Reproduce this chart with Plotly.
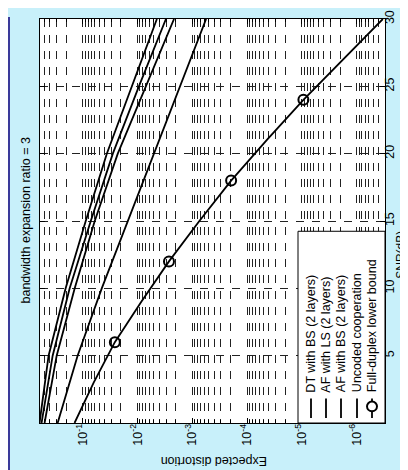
import plotly.graph_objects as go

# ---------------- data ----------------
snr_db = [0, 5, 10, 15, 20, 25, 30]
dt_bs_2layers = [6.14e-1, 4.20e-1, 2.05e-1, 8.81e-2, 3.63e-2, 1.27e-2, 4.42e-3]
af_ls_2layers = [5.64e-1, 3.54e-1, 1.73e-1, 7.13e-2, 2.82e-2, 9.42e-3, 3.02e-3]
af_bs_2layers = [4.97e-1, 2.99e-1, 1.40e-1, 6.03e-2, 2.29e-2, 7.02e-3, 2.15e-3]
uncoded_coop = [2.87e-1, 1.24e-1, 4.49e-2, 1.50e-2, 5.01e-3, 1.67e-3, 5.58e-4]

fd_snr_db = [0, 3, 6, 9, 12, 15, 18, 21, 24, 27, 30]
fd_lower_bound = [1.41e-1, 6.31e-2, 2.59e-2, 8.51e-3, 2.66e-3, 7.41e-4,
                  1.95e-4, 4.37e-5, 9.33e-6, 1.78e-6, 3.31e-7]
fd_marker_idx = [2, 4, 6, 8]

legend_names = ["DT with BS (2 layers)", "AF with LS (2 layers)",
                "AF with BS (2 layers)", "Uncoded cooperation",
                "Full-duplex lower bound"]

dist_ticks = [1e-6, 1e-5, 1e-4, 1e-3, 1e-2, 1e-1]
dist_tick_text = ["10<sup>-6</sup>", "10<sup>-5</sup>", "10<sup>-4</sup>",
                  "10<sup>-3</sup>", "10<sup>-2</sup>", "10<sup>-1</sup>"]
snr_ticks = [5, 10, 15, 20, 25, 30]
title_text = "bandwidth expansion ratio = 3"
x_title = "Expected distortion"
y_title = "SNR(dB)"

# ---------------- layout geometry ----------------
W, H = 408, 470
PL, PR, PT, PB = 32, 377, 2, 415
BG = "#C8F0FA"
FONT = "Liberation Sans, Arial, sans-serif"
FS = 12.5


def px(x):
    return (x - PL) / (PR - PL)


def py(y):
    return (PB - y) / (PB - PT)


minor_vals = [k * 10.0 ** e for e in range(-7, 0) for k in range(2, 10)]

fig = go.Figure()
line_style = dict(color="black", width=1.8)
for ys in [dt_bs_2layers, af_ls_2layers, af_bs_2layers, uncoded_coop]:
    fig.add_trace(go.Scatter(x=ys, y=snr_db, mode="lines", line=line_style,
                             showlegend=False, hoverinfo="skip"))
fig.add_trace(go.Scatter(x=fd_lower_bound, y=fd_snr_db, mode="lines",
                         line=line_style, showlegend=False, hoverinfo="skip"))
fig.add_trace(go.Scatter(x=[fd_lower_bound[i] for i in fd_marker_idx],
                         y=[fd_snr_db[i] for i in fd_marker_idx],
                         mode="markers",
                         marker=dict(symbol="circle-open", size=10,
                                     color="black", line=dict(width=2)),
                         showlegend=False, hoverinfo="skip"))

grid_dash = "8px,8px"
fig.update_xaxes(
    type="log", range=[-0.22, -6.52],
    tickvals=dist_ticks, ticktext=dist_tick_text, tickangle=-90,
    showgrid=True, gridcolor="#222", gridwidth=1, griddash=grid_dash,
    showline=True, linecolor="black", linewidth=1, mirror="ticks",
    ticks="inside", ticklen=5, tickcolor="black",
    minor=dict(tickvals=minor_vals, showgrid=True, gridcolor="#222",
               gridwidth=1, griddash=grid_dash, ticks="inside", ticklen=3,
               tickcolor="black"),
    tickfont=dict(family=FONT, size=FS, color="black"),
    zeroline=False, ticklabeloverflow="allow", ticklabelstandoff=-5,
)
fig.update_yaxes(
    range=[0, 30], side="right", tickvals=snr_ticks, tickangle=-90,
    showgrid=True, gridcolor="#222", gridwidth=1, griddash=grid_dash,
    showline=True, linecolor="black", linewidth=1, mirror="ticks",
    ticks="inside", ticklen=5, tickcolor="black",
    tickfont=dict(family=FONT, size=FS, color="black"),
    zeroline=False, ticklabeloverflow="allow", ticklabelstandoff=-7,
)

shapes = []
# frame strips of the slide
shapes.append(dict(type="rect", xref="paper", yref="paper",
                   x0=px(0), x1=px(2), y0=py(466), y1=py(0),
                   fillcolor="#3A3A9A", line=dict(width=0), layer="above"))
shapes.append(dict(type="rect", xref="paper", yref="paper",
                   x0=px(0), x1=px(W), y0=py(466), y1=py(463),
                   fillcolor="#3A3A9A", line=dict(width=0), layer="above"))
# legend box
shapes.append(dict(type="rect", xref="paper", yref="paper",
                   x0=px(290), x1=px(377), y0=py(415), y1=py(219),
                   fillcolor="white", line=dict(color="black", width=1),
                   layer="above"))
leg_cols = [303, 318, 333, 349, 364]
annotations = []
for i, (name, cx) in enumerate(zip(legend_names, leg_cols)):
    shapes.append(dict(type="line", xref="paper", yref="paper",
                       x0=px(cx), x1=px(cx), y0=py(410), y1=py(390),
                       line=dict(color="black", width=1.8), layer="above"))
    annotations.append(dict(x=px(cx), y=py(386), xref="paper", yref="paper",
                            text=name, textangle=-90, showarrow=False,
                            xanchor="center", yanchor="bottom",
                            font=dict(family=FONT, size=FS, color="black")))
# marker sample of last entry
cx = leg_cols[-1]
shapes.append(dict(type="circle", xref="paper", yref="paper",
                   x0=px(cx - 5), x1=px(cx + 5), y0=py(403), y1=py(393),
                   line=dict(color="black", width=2), fillcolor="white",
                   layer="above"))

annotations.append(dict(x=px(18), y=py(208), xref="paper", yref="paper",
                        text=title_text, textangle=-90, showarrow=False,
                        xanchor="center", yanchor="middle",
                        font=dict(family=FONT, size=FS, color="black")))
annotations.append(dict(x=px(206), y=py(454), xref="paper", yref="paper",
                        text=x_title, textangle=180, showarrow=False,
                        xanchor="center", yanchor="middle",
                        font=dict(family=FONT, size=FS, color="black")))
annotations.append(dict(x=px(393), y=py(243), xref="paper", yref="paper",
                        text=y_title, textangle=-90, showarrow=False,
                        xanchor="center", yanchor="middle", borderpad=0,
                        font=dict(family=FONT, size=12, color="black")))

fig.update_layout(
    width=W, height=H,
    margin=dict(l=PL, r=W - PR, t=PT, b=H - PB, pad=0),
    paper_bgcolor=BG, plot_bgcolor="white",
    shapes=shapes, annotations=annotations,
    font=dict(family=FONT, size=FS, color="black"),
)

fig.write_html("out.html")
